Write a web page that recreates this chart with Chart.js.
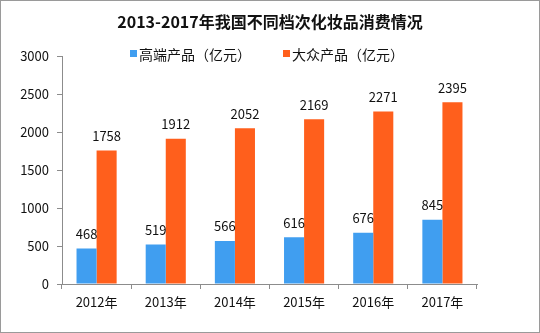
<!DOCTYPE html>
<html>
<head>
<meta charset="utf-8">
<script src="https://cdn.jsdelivr.net/npm/chart.js@4/dist/chart.umd.min.js"></script>
<style>
  html, body { margin: 0; padding: 0; background: #fff; }
  #wrap { width: 540px; height: 333px; position: relative; }
</style>
</head>
<body>
<div id="wrap"><canvas id="chart" width="540" height="333"></canvas></div>
<script>
// ================= DATA =================
const years = ["2012年", "2013年", "2014年", "2015年", "2016年", "2017年"];
const highEnd = [468, 519, 566, 616, 676, 845];
const massMarket = [1758, 1912, 2052, 2169, 2271, 2395];
const yTicks = [0, 500, 1000, 1500, 2000, 2500, 3000];

const FONT = "'Noto Sans CJK SC', 'DejaVu Sans', sans-serif";
const AXIS_COLOR = "#8c8c8c";


// ================= VALUE LABELS + LEGEND + FRAME =================
const extras = {
  id: "extras",
  afterDatasetsDraw(chart) {
    const ctx = chart.ctx;
    ctx.save();
    ctx.font = "13px " + FONT;
    ctx.fillStyle = "#111";
    ctx.textAlign = "center";
    ctx.textBaseline = "bottom";
    chart.data.datasets.forEach((ds, i) => {
      chart.getDatasetMeta(i).data.forEach((bar, j) => {
        ctx.fillText(String(ds.data[j]), bar.x, bar.y - 8);
      });
    });
    ctx.restore();
  },
  afterDraw(chart) {
    const ctx = chart.ctx;
    ctx.save();

    // legend
    const items = [
      { x: 130, ds: chart.data.datasets[0] },
      { x: 283, ds: chart.data.datasets[1] }
    ];
    ctx.font = "14px " + FONT;
    ctx.textBaseline = "middle";
    ctx.textAlign = "left";
    items.forEach(it => {
      ctx.fillStyle = it.ds.backgroundColor;
      ctx.fillRect(it.x, 50, 7, 7);
      ctx.fillStyle = "#111";
      ctx.fillText(it.ds.label, it.x + 9, 54.5);
    });

    // frame
    ctx.strokeStyle = "#9a9a9a";
    ctx.lineWidth = 1;
    ctx.strokeRect(0.5, 0.5, chart.width - 1, chart.height - 1);
    ctx.restore();
  }
};


// ================= CHART =================
new Chart(document.getElementById("chart"), {
  type: "bar",
  data: {
    labels: years,
    datasets: [
      {
        label: "高端产品（亿元）",
        data: highEnd,
        backgroundColor: "#409ef0",
        categoryPercentage: 0.58,
        barPercentage: 1
      },
      {
        label: "大众产品（亿元）",
        data: massMarket,
        backgroundColor: "#ff5f1c",
        categoryPercentage: 0.58,
        barPercentage: 1
      }
    ]
  },
  options: {
    responsive: false,
    animation: false,
    layout: { padding: 0 },
    plugins: {
      legend: { display: false },
      tooltip: { enabled: false },
      title: {
        display: true,
        text: "2013-2017年我国不同档次化妆品消费情况",
        color: "#111",
        font: { family: FONT, size: 16, weight: "bold" },
        padding: { top: 12, bottom: 25 }
      }
    },
    scales: {
      x: {
        grid: {
          offset: true,
          drawOnChartArea: false,
          drawTicks: true,
          tickLength: 5,
          color: AXIS_COLOR
        },
        border: { display: true, color: AXIS_COLOR },
        ticks: {
          color: "#111",
          font: { family: FONT, size: 13 },
          padding: 5
        },
        afterFit(scale) { scale.height = 49; }
      },
      y: {
        min: 0,
        max: 3000,
        afterBuildTicks(scale) {
          scale.ticks = yTicks.map(v => ({ value: v }));
        },
        grid: {
          drawOnChartArea: false,
          drawTicks: true,
          tickLength: 5,
          color: AXIS_COLOR
        },
        border: { display: true, color: AXIS_COLOR },
        ticks: {
          color: "#111",
          font: { family: FONT, size: 13 },
          padding: 8,
          callback: v => String(v)
        },
        afterFit(scale) { scale.width = 62; }
      },
      // empty right-hand spacer so the title stays centred on the canvas
      yRight: {
        position: "right",
        min: 0,
        max: 3000,
        grid: { display: false },
        border: { display: false },
        ticks: { display: false },
        afterFit(scale) { scale.width = 63; }
      }
    }
  },
  plugins: [extras]
});
</script>
</body>
</html>
